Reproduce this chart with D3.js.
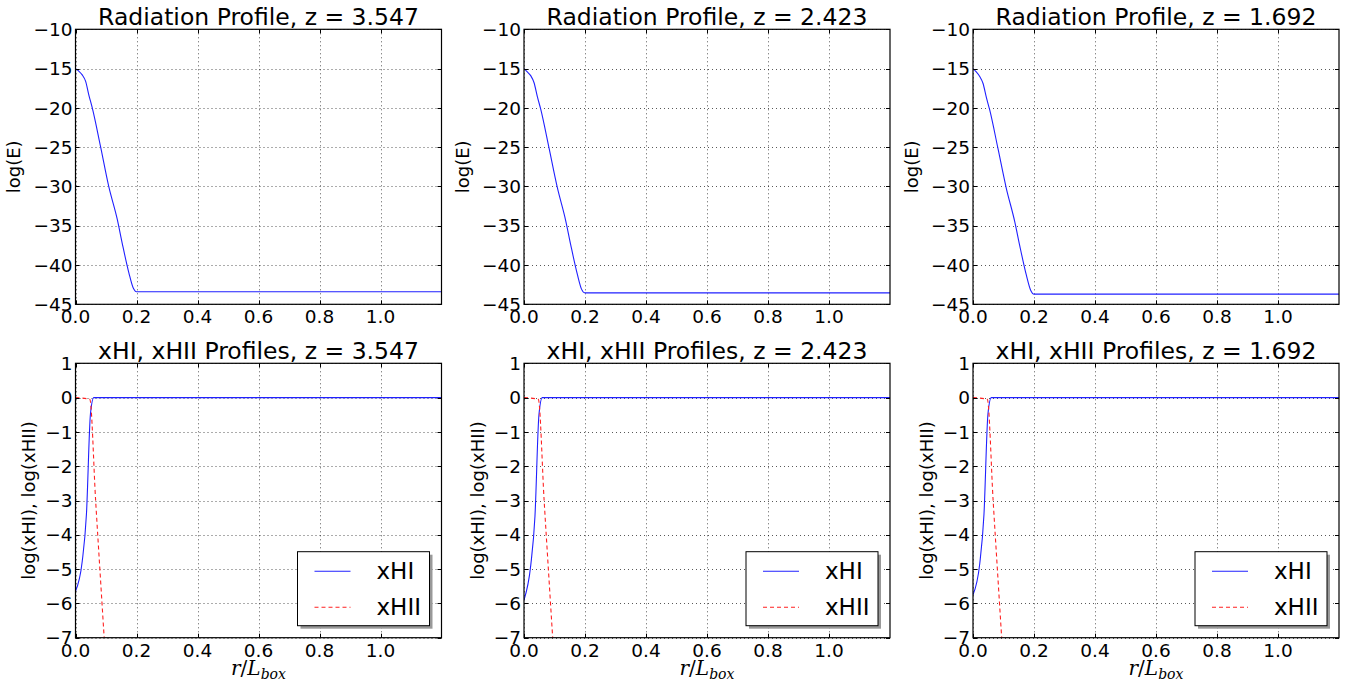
<!DOCTYPE html>
<html>
<head>
<meta charset="utf-8">
<script src="https://cdn.jsdelivr.net/npm/d3@7"></script>
<style>
  html, body { margin: 0; padding: 0; background: #fff; }
  svg { display: block; }
  text { font-family: "DejaVu Sans", sans-serif; fill: #000; }
</style>
</head>
<body>
<svg id="fig" width="1351" height="685"></svg>
<script>
// Redshifts of the three snapshots (one column each)
const redshifts = ["3.547", "2.423", "1.692"];

// Radiation profile: radius (r / L_box) and log(E) per snapshot
const radR = [0, 0.01, 0.022, 0.033, 0.044, 0.055, 0.082, 0.109, 0.137, 0.153, 0.175, 0.189, 0.2, 1.2];
const logE_z3547 = [-15.0, -15.3, -15.8, -16.6, -18.4, -20.0, -24.9, -30.0, -34.2, -37.2, -41.0, -42.9, -43.4, -43.4];
const logE_z2423 = [-15.0, -15.4, -15.9, -16.8, -18.6, -20.2, -25.1, -30.1, -34.4, -37.4, -41.2, -43.1, -43.55, -43.55];
const logE_z1692 = [-15.0, -15.4, -16.0, -16.9, -18.7, -20.3, -25.2, -30.2, -34.5, -37.5, -41.3, -43.2, -43.7, -43.7];
const logE = [logE_z3547, logE_z2423, logE_z1692];

// Ionisation profiles: radius and log(xHI), log(xHII) per snapshot
const xhiR = [0, 0.022, 0.036, 0.049, 0.06, 1.2];
const xHI_z3547 = [-5.65, -4.78, -3.38, -0.48, 0, 0];
const xHI_z2423 = [-5.9, -4.9, -3.45, -0.5, 0, 0];
const xHI_z1692 = [-5.75, -4.85, -3.4, -0.48, 0, 0];
const xHI = [xHI_z3547, xHI_z2423, xHI_z1692];

const xhiiR = [0, 0.047, 0.066, 0.082, 0.094];
const xHII_z3547 = [0, -0.05, -3.0, -5.3, -7.0];
const xHII_z2423 = [0, -0.05, -3.0, -5.3, -7.0];
const xHII_z1692 = [0, -0.05, -3.0, -5.3, -7.0];
const xHII = [xHII_z3547, xHII_z2423, xHII_z1692];

// Axis ticks
const xTicks = [0.0, 0.2, 0.4, 0.6, 0.8, 1.0];
const eTicks = [-10, -15, -20, -25, -30, -35, -40, -45];
const xiTicks = [1, 0, -1, -2, -3, -4, -5, -6, -7];
const legendLabels = ["xHI", "xHII"];

const svg = d3.select("#fig");
const colLeft = [75.5, 524, 973];
const axW = 366;
const rows = [{ top: 29.3, bottom: 304.3 }, { top: 363.3, bottom: 637.7 }];

const fmtTick = v => (v < 0 ? "\u2212" + Math.abs(v) : String(v));
const fmtX = v => v.toFixed(1);

function drawPanel(col, row, yDomain, yTicks, title, ylabel, ylabelX, series, withLegend, withXLabel) {
  const L = colLeft[col], R = L + axW;
  const T = rows[row].top, B = rows[row].bottom;
  const x = d3.scaleLinear().domain([0, 1.2]).range([L, R]);
  const y = d3.scaleLinear().domain(yDomain).range([B, T]);
  const g = svg.append("g");

  const clipId = "clip-" + row + "-" + col;
  g.append("clipPath").attr("id", clipId)
    .append("rect").attr("x", L).attr("y", T).attr("width", R - L).attr("height", B - T);

  // dotted grid
  const grid = g.append("g").attr("stroke", "#000").attr("stroke-opacity", 0.65)
    .attr("stroke-width", 1).attr("stroke-dasharray", "1,3");
  xTicks.forEach(t => {
    grid.append("line").attr("x1", Math.round(x(t)) + 0.5).attr("x2", Math.round(x(t)) + 0.5)
      .attr("y1", T).attr("y2", B);
  });
  yTicks.forEach(t => {
    grid.append("line").attr("y1", Math.round(y(t)) + 0.5).attr("y2", Math.round(y(t)) + 0.5)
      .attr("x1", L).attr("x2", R);
  });

  // data curves
  const plot = g.append("g").attr("clip-path", "url(#" + clipId + ")");
  series.forEach(s => {
    const line = d3.line().x(d => x(d[0])).y(d => y(d[1])).curve(d3.curveMonotoneX);
    plot.append("path")
      .attr("d", line(s.r.map((r, i) => [r, s.v[i]])))
      .attr("fill", "none").attr("stroke", s.color).attr("stroke-width", 1.1)
      .attr("stroke-dasharray", s.dash || null);
  });

  // inward ticks on all four sides
  const ticks = g.append("g").attr("stroke", "#000").attr("stroke-width", 1);
  xTicks.forEach(t => {
    const xx = Math.round(x(t)) + 0.5;
    ticks.append("line").attr("x1", xx).attr("x2", xx).attr("y1", B).attr("y2", B - 4);
    ticks.append("line").attr("x1", xx).attr("x2", xx).attr("y1", T).attr("y2", T + 4);
  });
  yTicks.forEach(t => {
    const yy = Math.round(y(t)) + 0.5;
    ticks.append("line").attr("y1", yy).attr("y2", yy).attr("x1", L).attr("x2", L + 4);
    ticks.append("line").attr("y1", yy).attr("y2", yy).attr("x1", R).attr("x2", R - 4);
  });

  // frame
  g.append("rect").attr("x", L).attr("y", T).attr("width", R - L).attr("height", B - T)
    .attr("fill", "none").attr("stroke", "#000").attr("stroke-width", 1.2);

  // tick labels
  xTicks.forEach(t => {
    g.append("text").attr("x", x(t)).attr("y", B + 19).attr("text-anchor", "middle")
      .attr("font-size", 18.5).text(fmtX(t));
  });
  yTicks.forEach(t => {
    g.append("text").attr("x", L - 3).attr("y", y(t)).attr("dy", "0.36em")
      .attr("text-anchor", "end").attr("font-size", 18.5).text(fmtTick(t));
  });

  // title
  g.append("text").attr("x", (L + R) / 2).attr("y", T - 4.5).attr("text-anchor", "middle")
    .attr("font-size", 23.5).text(title);

  // y label
  g.append("text").attr("transform", "translate(" + (L - 75.5 + ylabelX) + "," + ((T + B) / 2) + ") rotate(-90)")
    .attr("text-anchor", "middle").attr("font-size", 18).text(ylabel);

  if (withXLabel) {
    const xl = g.append("text").attr("x", (L + R) / 2).attr("y", B + 37)
      .attr("text-anchor", "middle")
      .style("font-family", "'DejaVu Serif', 'Liberation Serif', serif").attr("font-size", 20);
    xl.append("tspan").attr("font-style", "italic").text("r");
    xl.append("tspan").text("/");
    xl.append("tspan").attr("font-style", "italic").text("L");
    xl.append("tspan").attr("font-style", "italic").attr("font-size", 14).attr("dy", 4).text("box");
  }

  if (withLegend) {
    const bx = R - 144, by = B - 86, bw = 132, bh = 74;
    g.append("rect").attr("x", bx + 3).attr("y", by + 3).attr("width", bw).attr("height", bh)
      .attr("fill", "#999");
    g.append("rect").attr("x", bx).attr("y", by).attr("width", bw).attr("height", bh)
      .attr("fill", "#fff").attr("stroke", "#000").attr("stroke-width", 1);
    series.forEach((s, i) => {
      const ly = by + 19.5 + i * 36;
      g.append("line").attr("x1", bx + 17).attr("x2", bx + 53).attr("y1", ly).attr("y2", ly)
        .attr("stroke", s.color).attr("stroke-width", 1.1).attr("stroke-dasharray", s.dash || null);
      g.append("text").attr("x", bx + 79).attr("y", ly).attr("dy", "0.36em")
        .attr("font-size", 23).text(legendLabels[i]);
    });
  }
}

redshifts.forEach((z, c) => {
  drawPanel(c, 0, [-45, -10], eTicks, "Radiation Profile, z = " + z, "log(E)", 20,
    [{ r: radR, v: logE[c], color: "#2020ff" }], false, false);
  drawPanel(c, 1, [-7, 1], xiTicks, "xHI, xHII Profiles, z = " + z, "log(xHI), log(xHII)", 35,
    [{ r: xhiR, v: xHI[c], color: "#2020ff" },
     { r: xhiiR, v: xHII[c], color: "#ff2020", dash: "4,3" }], true, true);
});
</script>
</body>
</html>
